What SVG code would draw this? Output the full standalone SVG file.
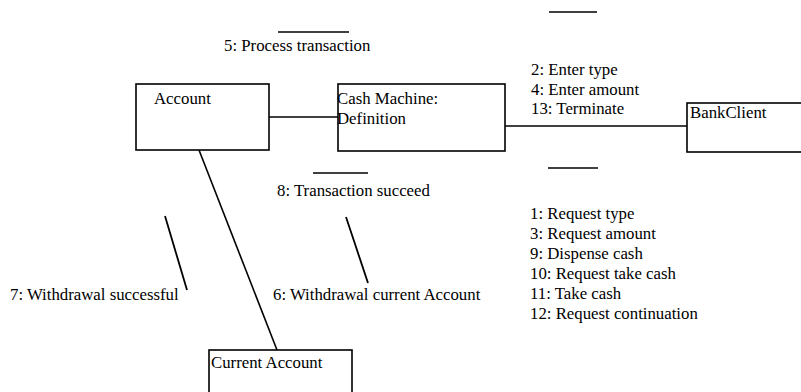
<svg xmlns="http://www.w3.org/2000/svg" width="801" height="392" viewBox="0 0 801 392">
  <style>
    .box { fill: none; stroke: #000; stroke-width: 1.6; }
    .link { stroke: #000; stroke-width: 1.6; fill: none; }
    .bar { stroke: #000; stroke-width: 1.4; }
    .arrow { stroke: #000; stroke-width: 1.8; }
    .lbl { font-family: 'Liberation Serif', 'DejaVu Serif', serif; font-size: 16.8px; fill: #000; }
  </style>
  <rect width="801" height="392" fill="#fff"/>

  <!-- links between objects -->
  <g id="connectors">
    <line class="link" x1="269" y1="117" x2="338" y2="117"/>
    <line class="link" x1="505" y1="126" x2="687" y2="126"/>
    <line class="link" x1="199" y1="150" x2="277" y2="350"/>
  </g>

  <g class="lbl" font-family="Liberation Serif, DejaVu Serif, serif">
    <!-- message labels with direction strokes -->
    <g id="msg-process">
      <line class="bar" x1="278" y1="32" x2="349" y2="32"/>
      <text x="224" y="51">5: Process transaction</text>
    </g>
    <g id="msg-client-in">
      <line class="bar" x1="549" y1="12" x2="597" y2="12"/>
      <text x="531" y="75">2: Enter type</text>
      <text x="531" y="94.5">4: Enter amount</text>
      <text x="531" y="114">13: Terminate</text>
    </g>
    <g id="msg-client-out">
      <line class="bar" x1="548" y1="168" x2="598" y2="168"/>
      <text x="530" y="219">1: Request type</text>
      <text x="530" y="239">3: Request amount</text>
      <text x="530" y="259">9: Dispense cash</text>
      <text x="530" y="279">10: Request take cash</text>
      <text x="530" y="299">11: Take cash</text>
      <text x="530" y="319">12: Request continuation</text>
    </g>
    <g id="msg-succeed">
      <line class="bar" x1="313" y1="173" x2="368" y2="173"/>
      <text x="277" y="196">8: Transaction succeed</text>
    </g>
    <g id="msg-withdraw">
      <line class="arrow" x1="346" y1="217" x2="368" y2="283"/>
      <text x="273" y="300">6: Withdrawal current Account</text>
    </g>
    <g id="msg-withdraw-ok">
      <line class="arrow" x1="165" y1="216" x2="187" y2="290"/>
      <text x="10" y="300">7: Withdrawal successful</text>
    </g>

    <!-- objects -->
    <g id="account">
      <rect class="box" x="136" y="84" width="133" height="66"/>
      <text x="154" y="104">Account</text>
    </g>
    <g id="cash-machine">
      <rect class="box" x="338" y="84" width="167" height="67"/>
      <text x="337" y="104">Cash Machine:</text>
      <text x="337" y="124">Definition</text>
    </g>
    <g id="bank-client">
      <rect class="box" x="687" y="103" width="120" height="49"/>
      <text x="690" y="118">BankClient</text>
    </g>
    <g id="current-account">
      <rect class="box" x="209" y="350" width="143" height="50"/>
      <text x="211" y="368">Current Account</text>
    </g>
  </g>
</svg>
